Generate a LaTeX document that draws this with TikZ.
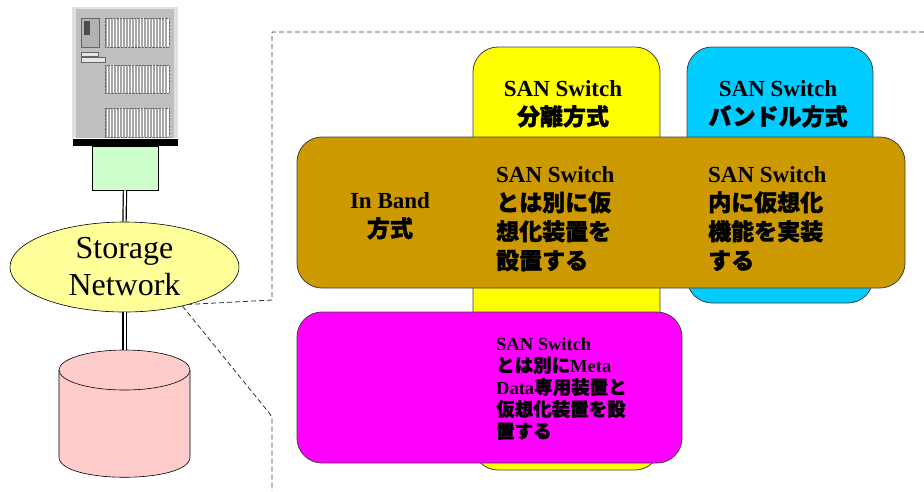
\documentclass[tikz,border=0pt]{standalone}
\usepackage{fontspec}
\setmainfont{Liberation Serif}
\newfontfamily\jpfont{Noto Sans CJK JP}[BoldFeatures={FakeBold=1.5}]
\usetikzlibrary{shapes.geometric}
\definecolor{hostgreen}{HTML}{CCFFCC}
\definecolor{netyellow}{HTML}{FFFF99}
\definecolor{diskpink}{HTML}{FFCCCC}
\definecolor{sepyellow}{HTML}{FFFF00}
\definecolor{bundlecyan}{HTML}{00CCFF}
\definecolor{bandgold}{HTML}{CC9900}
\definecolor{metamagenta}{HTML}{FF00FF}
\newcommand{\ja}[1]{{\jpfont\bfseries #1}}
\tikzset{
  panel/.style={draw=black!75,line width=0.8pt,rounded corners=25pt,inner sep=0pt},
  bigtext/.style={font=\bfseries\fontsize{23}{29}\selectfont,inner sep=0pt},
  smalltext/.style={font=\bfseries\fontsize{18.5}{22}\selectfont,inner sep=0pt,align=left,anchor=base west},
  cable/.style={line width=1.2pt,double=white,double distance=2pt},
  callout/.style={black!80,line width=0.8pt,dash pattern=on 5pt off 3pt},
}

\begin{document}
\begin{tikzpicture}[x=1pt,y=-1pt]
\useasboundingbox (0,0) rectangle (924,491);

% server cabinet
\fill[black!12] (72,7) rectangle (178,138);
\fill[black!25] (76,9) rectangle (174,138);
\fill[black] (73,139) rectangle (178,146);
\draw[black!60,fill=black!30] (81,18) rectangle (99,47);
\fill[black!70] (84,21) rectangle (90,35);
\draw[black!60,fill=black!10] (81,52) rectangle (98,56);
\draw[black!60,fill=black!10] (81,57) rectangle (105,62);
\foreach \y/\h in {18/29,65/28,108/29}
{
  \fill[white] (105,\y) rectangle ++(64,\h);
  \foreach \x in {106,109,...,168}
    \draw[black!35,line width=1.3pt] (\x,\y) -- ++(0,\h);
  \draw[black!60,densely dotted] (105,\y) rectangle ++(64,\h);
}
\node (server) at (125,73) [minimum width=106,minimum height=139,inner sep=0pt] {};

% host adapter, network and disk
\node (hba) at (125,168) [draw,line width=0.6pt,fill=hostgreen,minimum width=66,minimum height=44,inner sep=0pt] {};
\node (san) at (124.5,267) [ellipse,draw,line width=0.6pt,fill=netyellow,minimum width=229,minimum height=90,inner sep=0pt,
  align=center,font=\fontsize{32}{37}\selectfont] {Storage\\Network};

\draw[line width=0.6pt,fill=diskpink] (59,370) -- (59,457) .. controls (59,484) and (190,484) .. (190,457) -- (190,370);
\draw[line width=0.6pt,fill=diskpink] (124.5,370) ellipse [x radius=65.5,y radius=20];
\coordinate (disk) at (124.5,350);

\draw[cable] (hba.south) -- (san.north);
\draw[cable] (san.south) -- (disk);

% dashed callout
\coordinate (corner) at (272,32);
\coordinate (edge) at (924,32);
\coordinate (knee) at (272,300);
\coordinate (lowknee) at (270,414);
\coordinate (foot) at (272,491);
\draw[callout] (edge) -- (corner) -- (knee) -- (san.-30);
\draw[callout] (san.-34) -- (lowknee) -- (272,418) -- (foot);

% virtualization types
\node (sep) at (566.5,258.5) [panel,fill=sepyellow,minimum width=187,minimum height=423] {};
\node (bundle) at (780,175) [panel,fill=bundlecyan,minimum width=186,minimum height=256] {};
\node (inband) at (601,212.5) [panel,fill=bandgold,minimum width=608,minimum height=151] {};
\node (meta) at (489.5,387.5) [panel,fill=metamagenta,minimum width=385,minimum height=151] {};

% base anchors sit on the last line
\node (septext) at (563,125) [bigtext,align=center,anchor=base] {SAN Switch\\\ja{分離方式}};
\node (bundletext) at (778,125) [bigtext,align=center,anchor=base] {SAN Switch\\\ja{バンドル方式}};
\node (inbandtext) at (390,237) [bigtext,align=center,anchor=base] {In Band\\\ja{方式}};
\node (septype) at (496,269) [bigtext,align=left,anchor=base west]
  {SAN Switch\\\ja{とは別に仮}\\\ja{想化装置を}\\\ja{設置する}};
\node (bundletype) at (708,269) [bigtext,align=left,anchor=base west]
  {SAN Switch\\\ja{内に仮想化}\\\ja{機能を実装}\\\ja{する}};
\node (metatext) at (496,438) [smalltext]
  {SAN Switch\\\ja{とは別に}Meta\\Data\ja{専用装置と}\\\ja{仮想化装置を設}\\\ja{置する}};

\end{tikzpicture}
\end{document}
